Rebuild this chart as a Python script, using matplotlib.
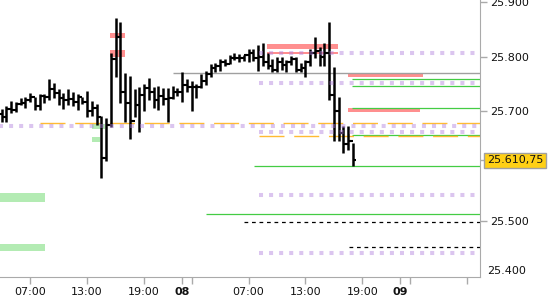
import numpy as np
import matplotlib.pyplot as plt

# half-hour OHLC bars
highs = [25.705, 25.710, 25.719, 25.717, 25.724, 25.727, 25.734, 25.727, 25.732, 25.731,
         25.759, 25.752, 25.741, 25.733, 25.741, 25.735, 25.732, 25.727, 25.737, 25.719,
         25.714, 25.692, 25.688, 25.807, 25.870, 25.863, 25.770, 25.765, 25.741, 25.745,
         25.750, 25.761, 25.745, 25.746, 25.743, 25.743, 25.746, 25.743, 25.772, 25.759,
         25.756, 25.750, 25.768, 25.774, 25.787, 25.788, 25.796, 25.796, 25.802, 25.807,
         25.805, 25.803, 25.814, 25.813, 25.821, 25.825, 25.806, 25.796, 25.800, 25.800,
         25.794, 25.801, 25.800, 25.788, 25.794, 25.813, 25.835, 25.817, 25.825, 25.863,
         25.781, 25.726, 25.674, 25.674, 25.643]
lows = [25.681, 25.681, 25.697, 25.699, 25.711, 25.707, 25.718, 25.702, 25.702, 25.715,
        25.721, 25.724, 25.711, 25.705, 25.711, 25.710, 25.702, 25.713, 25.689, 25.692,
        25.675, 25.579, 25.610, 25.672, 25.763, 25.716, 25.681, 25.650, 25.689, 25.663,
        25.700, 25.720, 25.707, 25.702, 25.711, 25.680, 25.723, 25.729, 25.718, 25.736,
        25.700, 25.725, 25.742, 25.748, 25.762, 25.771, 25.774, 25.782, 25.786, 25.793,
        25.790, 25.791, 25.790, 25.792, 25.774, 25.783, 25.777, 25.771, 25.771, 25.776,
        25.771, 25.785, 25.771, 25.771, 25.763, 25.782, 25.798, 25.783, 25.783, 25.720,
        25.647, 25.647, 25.625, 25.629, 25.601]
closes = [25.690, 25.704, 25.703, 25.714, 25.716, 25.720, 25.727, 25.710, 25.728, 25.726,
          25.740, 25.734, 25.725, 25.720, 25.722, 25.718, 25.726, 25.718, 25.700, 25.706,
          25.690, 25.615, 25.676, 25.795, 25.836, 25.735, 25.715, 25.683, 25.712, 25.730,
          25.742, 25.735, 25.720, 25.728, 25.722, 25.725, 25.735, 25.736, 25.748, 25.744,
          25.745, 25.745, 25.755, 25.768, 25.780, 25.782, 25.790, 25.786, 25.797, 25.798,
          25.797, 25.802, 25.806, 25.797, 25.800, 25.790, 25.783, 25.776, 25.790, 25.785,
          25.790, 25.795, 25.776, 25.780, 25.790, 25.806, 25.810, 25.800, 25.806, 25.730,
          25.700, 25.660, 25.640, 25.646, 25.61075]
first_open = 25.695
last_price = 25.61075
bar_start = 4.0   # session hours (day break gap squeezed out)
bar_step = 0.5

tick_pos = [7, 13, 19, 23, 24, 30, 36, 42, 46, 47, 53]
tick_labels = ['07:00', '13:00', '19:00', '08', '', '07:00', '13:00', '19:00', '09', '', '']

# levels: price, start hour, end hour
gray_levels = [(25.770, 22.0, 60)]
green_levels = [(25.759, 40.9, 60), (25.746, 40.9, 60), (25.706, 40.9, 60),
                (25.658, 40.9, 60), (25.601, 30.6, 60), (25.513, 25.5, 60)]
lavender_levels = [(25.674, 0, 60), (25.807, 31.1, 60), (25.752, 31.1, 60),
                   (25.663, 31.1, 60), (25.547, 31.1, 60), (25.443, 31.1, 60)]
orange_levels = [(25.679, 8.05, 60), (25.655, 31.1, 60)]
black_levels = [(25.499, 29.5, 60), (25.453, 40.6, 60)]

# zones: low, high, start hour, end hour
red_zones = [(25.834, 25.843, 15.4, 17.0), (25.800, 25.812, 15.4, 17.0),
             (25.814, 25.823, 31.95, 39.4), (25.804, 25.808, 31.95, 39.4),
             (25.763, 25.768, 40.5, 48.4), (25.699, 25.706, 40.5, 48.05)]
green_zones = [(25.536, 25.552, 0, 8.6), (25.445, 25.459, 0, 8.6),
               (25.668, 25.677, 13.5, 14.9), (25.645, 25.654, 13.5, 14.4)]

fig = plt.figure(figsize=(5.5, 3), dpi=100)
ax = fig.add_axes([0, 23 / 300, 480 / 550, 277 / 300])

for lo, hi, x0, x1 in red_zones:
    ax.fill_between([x0, x1], lo, hi, color='#ff8f8f', lw=0, zorder=1)
for lo, hi, x0, x1 in green_zones:
    ax.fill_between([x0, x1], lo, hi, color='#b3ebb3', lw=0, zorder=1)

for p, x0, x1 in gray_levels:
    ax.hlines(p, x0, x1, color='#a0a0a0', lw=1.0, zorder=2)
for p, x0, x1 in green_levels:
    ax.hlines(p, x0, x1, color='#44cc44', lw=0.9, zorder=2)
for p, x0, x1 in orange_levels:
    ax.plot([x0, x1], [p, p], color='#ffbb33', lw=1.0, dashes=(18, 7), zorder=2)
for p, x0, x1 in black_levels:
    ax.plot([x0, x1], [p, p], color='k', lw=0.9, dashes=(3, 3), zorder=2)

x = bar_start + bar_step * np.arange(len(highs))
opens = [first_open] + closes[:-1]
ax.vlines(x, lows, highs, color='k', lw=1.8, zorder=3)
ax.hlines(opens, x - 0.32, x, color='k', lw=1.5, zorder=3)
ax.hlines(closes, x, x + 0.32, color='k', lw=1.5, zorder=3)

for p, x0, x1 in lavender_levels:
    ax.plot([x0, x1], [p, p], color='#b07fdc', alpha=0.45, lw=2.9,
            dashes=(1, 1.5), solid_capstyle='butt', dash_capstyle='butt', zorder=4)

ax.set_xlim(3.84, 54.37)
ax.set_ylim(25.3985, 25.903)

for s in ['top', 'left']:
    ax.spines[s].set_visible(False)
for s in ['right', 'bottom']:
    ax.spines[s].set_color('#aaaaaa')

ax.yaxis.tick_right()
ax.set_yticks([25.5, last_price, 25.7, 25.8, 25.9])
ax.set_yticklabels(['25.500', '', '25.700', '25.800', '25.900'])
ax.set_xticks(tick_pos)
ax.set_xticklabels(tick_labels)
for t in ax.get_xticklabels():
    if t.get_text() in ('08', '09'):
        t.set_fontweight('bold')
ax.tick_params(axis='both', length=5, width=1, color='#aaaaaa', pad=2,
               labelsize=8, labelcolor='#111111')

ax.text(1 + 7 / 480, 25.4, '25.400', transform=ax.get_yaxis_transform(),
        va='bottom', ha='left', fontsize=8, color='#111111')
ax.text(1 + 7 / 480, last_price, '25.610,75', transform=ax.get_yaxis_transform(),
        va='center', ha='left', fontsize=8, color='#111111',
        bbox=dict(boxstyle='square,pad=0.25', fc='#ffd015', ec='#a0a0a0', lw=1))

fig.savefig('out.png', dpi=100)
